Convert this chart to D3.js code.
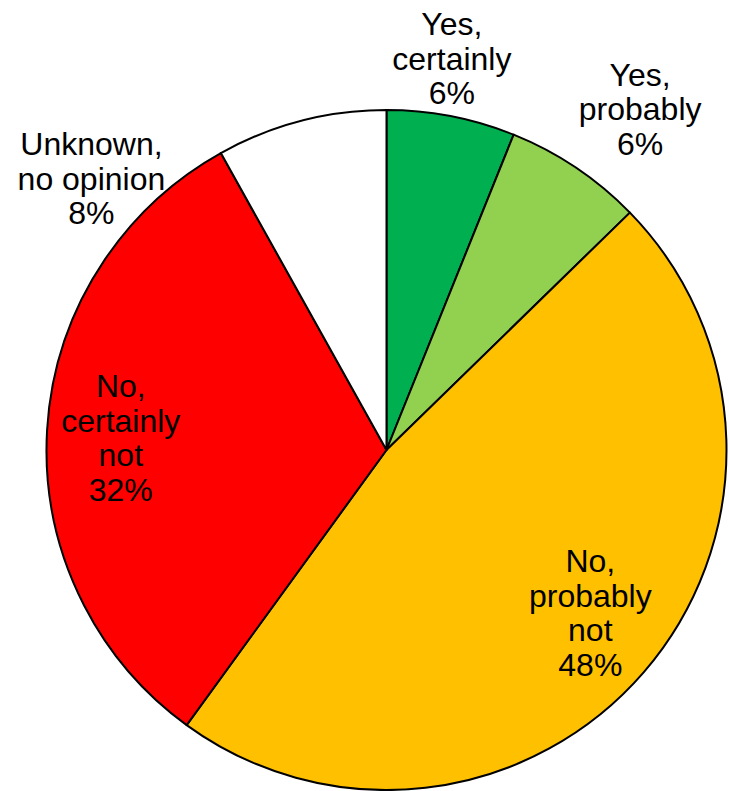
<!DOCTYPE html>
<html>
<head>
<meta charset="utf-8">
<script src="https://cdn.jsdelivr.net/npm/d3@7"></script>
<style>
  html, body { margin: 0; padding: 0; background: #fff; }
  svg { display: block; }
</style>
</head>
<body>
<svg id="chart" width="729" height="791"></svg>
<script>
// Data
const categories = ["Yes, certainly", "Yes, probably", "No, probably not", "No, certainly not", "Unknown, no opinion"];
const values = [6.1, 6.6, 47.3, 31.9, 8.1];
const percentLabels = ["6%", "6%", "48%", "32%", "8%"];
const labelLines = [
  ["Yes,", "certainly"],
  ["Yes,", "probably"],
  ["No,", "probably", "not"],
  ["No,", "certainly", "not"],
  ["Unknown,", "no opinion"]
];

// Styles / layout
const colors = ["#00B050", "#92D050", "#FFC000", "#FF0000", "#FFFFFF"];
// label placement: radius from center and angle offset (deg) from slice mid-angle
const labelPlacement = [
  { r: 397, da: -1.5 },
  { r: 425, da: 2.8 },
  { r: 261, da: -2.2 },
  { r: 266, da: -0.8 },
  { r: 401, da: -32.8 }
];

const width = 729, height = 791;
const cx = 386.5, cy = 450, radius = 340;
const fontSize = 32, lineH = 34.5;

const svg = d3.select("#chart");
const g = svg.append("g").attr("transform", `translate(${cx},${cy})`);

const data = categories.map((c, i) => ({ cat: c, value: values[i], i }));
const pie = d3.pie().value(d => d.value).sort(null);
const arcs = pie(data);
const arc = d3.arc().innerRadius(0).outerRadius(radius);

g.selectAll("path.slice")
  .data(arcs)
  .join("path")
  .attr("class", "slice")
  .attr("d", arc)
  .attr("fill", d => colors[d.data.i])
  .attr("stroke", "#000")
  .attr("stroke-width", 2)
  .attr("stroke-linejoin", "round");

g.selectAll("text.lbl")
  .data(arcs)
  .join("text")
  .attr("class", "lbl")
  .attr("font-family", "Liberation Sans, Arial, sans-serif")
  .attr("font-size", fontSize)
  .attr("fill", "#000")
  .attr("text-anchor", "middle")
  .each(function(d) {
    const p = labelPlacement[d.data.i];
    const mid = (d.startAngle + d.endAngle) / 2 + p.da * Math.PI / 180;
    const x = p.r * Math.sin(mid);
    const y = -p.r * Math.cos(mid);
    const lines = labelLines[d.data.i].concat([percentLabels[d.data.i]]);
    const n = lines.length;
    const t = d3.select(this);
    lines.forEach((ln, k) => {
      t.append("tspan")
        .attr("x", x)
        .attr("y", y + (k - (n - 1) / 2) * lineH)
        .attr("dy", "0.35em")
        .text(ln);
    });
  });
</script>
</body>
</html>
